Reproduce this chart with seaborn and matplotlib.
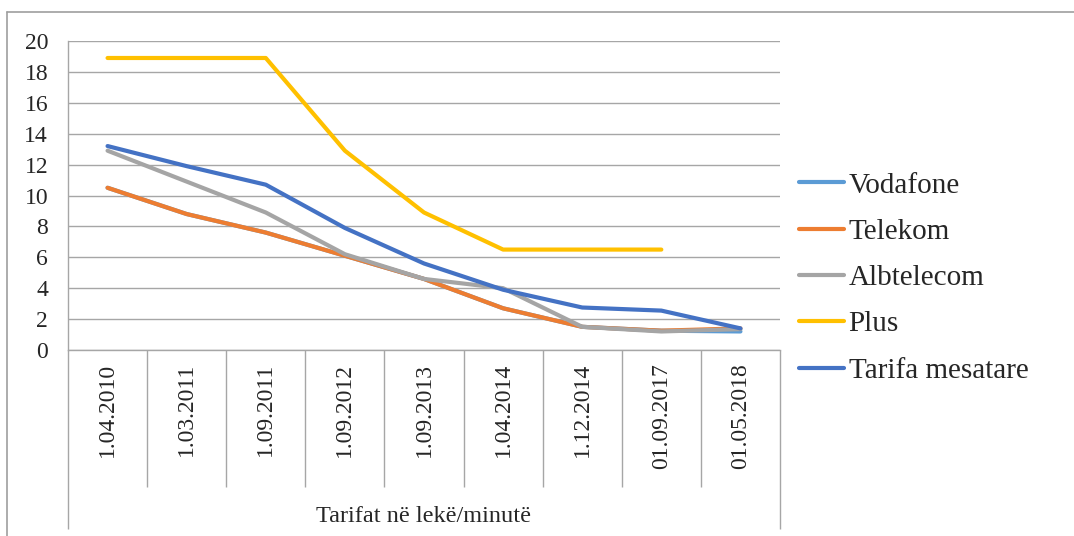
import matplotlib
matplotlib.use('Agg')
import matplotlib.pyplot as plt
import matplotlib.transforms as mtransforms
from matplotlib.lines import Line2D
import numpy as np
import pandas as pd
import seaborn as sns

dates = ['1.04.2010', '1.03.2011', '1.09.2011', '1.09.2012', '1.09.2013',
         '1.04.2014', '1.12.2014', '01.09.2017', '01.05.2018']
vodafone = [10.5, 8.8, 7.6, 6.1, 4.6, 2.7, 1.5, 1.25, 1.2]
telekom = [10.5, 8.8, 7.6, 6.1, 4.6, 2.7, 1.5, 1.25, 1.4]
albtelecom = [12.9, 10.9, 8.9, 6.2, 4.6, 4.0, 1.5, 1.2, 1.35]
plus = [18.9, 18.9, 18.9, 12.9, 8.9, 6.5, 6.5, 6.5, np.nan]
mesatare = [13.2, 11.9, 10.7, 7.9, 5.6, 3.9, 2.75, 2.55, 1.4]
series = ['Vodafone', 'Telekom', 'Albtelecom', 'Plus', 'Tarifa mesatare']
colors = ['#5B9BD5', '#ED7D31', '#A5A5A5', '#FFC000', '#4472C4']
x_title = 'Tarifat në lekë/minutë'


def build_frame():
    rows = []
    for name, vals in zip(series, [vodafone, telekom, albtelecom, plus, mesatare]):
        for i, v in enumerate(vals):
            rows.append({'pos': i, 'value': v, 'operator': name})
    return pd.DataFrame(rows)


def draw():
    sns.set_style('white')
    plt.rcParams['font.family'] = ['Liberation Serif', 'DejaVu Serif']
    grid_col = '#A6A6A6'

    fig = plt.figure(figsize=(10.74, 5.36), dpi=100)
    ax = fig.add_axes([68 / 1074, 1 - 350 / 536, 712 / 1074, 309 / 536])

    df = build_frame().dropna()
    sns.lineplot(data=df, x='pos', y='value', hue='operator', hue_order=series,
                 palette=colors, linewidth=3.0, ax=ax, legend=True,
                 solid_capstyle='round')

    ax.set_xlim(-0.5, len(dates) - 0.5)
    ax.set_ylim(0, 20)
    ax.set_yticks(np.arange(0, 21, 2))
    ax.yaxis.grid(True, color=grid_col, linewidth=1.0)
    ax.set_axisbelow(True)
    for s in ['top', 'right']:
        ax.spines[s].set_visible(False)
    for s in ['left', 'bottom']:
        ax.spines[s].set_color(grid_col)
        ax.spines[s].set_linewidth(1.0)
    ax.tick_params(axis='y', length=4.3, width=1.0, color=grid_col, pad=10,
                   labelsize=17)
    ax.set_xticks([])
    ax.set_xlabel('')
    ax.set_ylabel('')

    # category separators below the axis
    trans = mtransforms.blended_transform_factory(ax.transData, ax.transAxes)
    inner = np.arange(0.5, len(dates) - 1, 1.0)
    ax.vlines(inner, -0.443, 0, transform=trans, colors=grid_col,
              linewidth=1.0, clip_on=False)
    ax.vlines([-0.5, len(dates) - 0.5], -0.579, 0, transform=trans,
              colors=grid_col, linewidth=1.0, clip_on=False)
    for i, d in enumerate(dates):
        ax.text(i, -0.042, d, transform=trans, rotation=90, ha='center',
                va='top', fontsize=17)
    ax.text((len(dates) - 1) / 2, -0.54, x_title, transform=trans,
            ha='center', va='center', fontsize=17.5)

    handles, labels = ax.get_legend_handles_labels()
    ax.legend(handles, labels, loc='center left',
              bbox_to_anchor=(799 / 1074, 1 - 278 / 536),
              bbox_transform=fig.transFigure, frameon=False, fontsize=21,
              handlelength=1.55, handletextpad=0.15, labelspacing=0.68,
              borderaxespad=0, borderpad=0)

    # outer chart border (top and left visible)
    fig.add_artist(Line2D([7 / 1074, 1], [1 - 12 / 536, 1 - 12 / 536],
                          transform=fig.transFigure, color='#9E9E9E', linewidth=1.2))
    fig.add_artist(Line2D([7 / 1074, 7 / 1074], [0, 1 - 12 / 536],
                          transform=fig.transFigure, color='#9E9E9E', linewidth=1.2))

    fig.savefig('out.png', dpi=100)
    plt.close(fig)


if __name__ == '__main__':
    draw()
